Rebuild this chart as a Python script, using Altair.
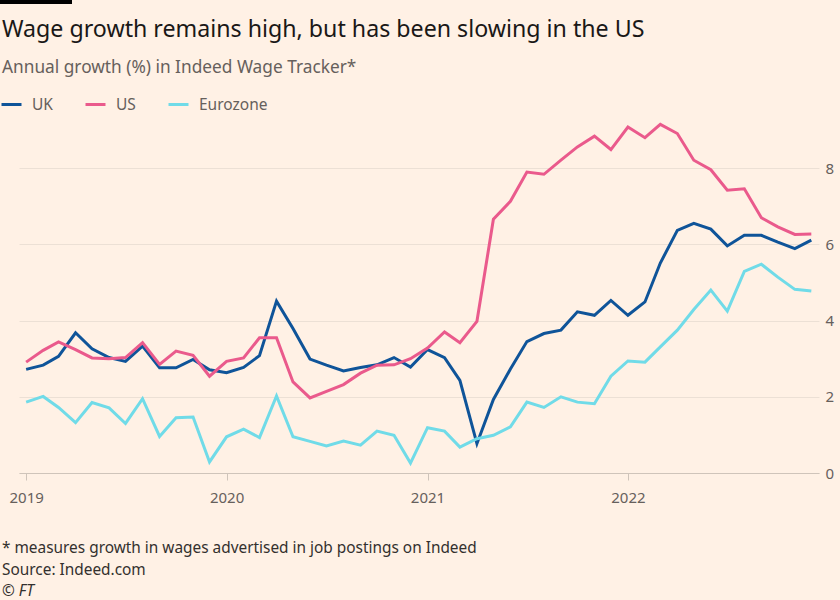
import altair as alt
import pandas as pd

months = pd.date_range("2019-01-01", "2022-12-01", freq="MS").strftime("%Y-%m-%d").tolist()

uk = [2.72, 2.83, 3.06, 3.68, 3.26, 3.03, 2.93, 3.33, 2.76, 2.76, 2.98, 2.71,
      2.63, 2.77, 3.08, 4.51, 3.79, 2.99, 2.83, 2.68, 2.77, 2.84, 3.03, 2.78,
      3.24, 3.03, 2.43, 0.77, 1.93, 2.73, 3.45, 3.66, 3.75, 4.23, 4.14, 4.53,
      4.14, 4.49, 5.51, 6.37, 6.55, 6.40, 5.96, 6.24, 6.24, 6.06, 5.89, 6.11]
us = [2.91, 3.22, 3.44, 3.24, 3.02, 3.00, 3.03, 3.42, 2.85, 3.20, 3.09, 2.54,
      2.93, 3.02, 3.55, 3.55, 2.39, 1.97, 2.14, 2.32, 2.62, 2.83, 2.84, 3.00,
      3.28, 3.70, 3.42, 3.98, 6.66, 7.13, 7.90, 7.84, 8.21, 8.56, 8.84, 8.49,
      9.08, 8.80, 9.15, 8.91, 8.21, 7.96, 7.42, 7.46, 6.70, 6.46, 6.26, 6.27]
eurozone = [1.86, 2.01, 1.72, 1.32, 1.85, 1.71, 1.30, 1.95, 0.96, 1.45, 1.47, 0.29,
            0.95, 1.15, 0.93, 2.02, 0.95, 0.83, 0.71, 0.84, 0.73, 1.10, 0.99, 0.26,
            1.19, 1.10, 0.68, 0.90, 0.99, 1.21, 1.86, 1.72, 2.00, 1.86, 1.82, 2.54,
            2.94, 2.91, 3.31, 3.75, 4.29, 4.80, 4.25, 5.29, 5.48, 5.14, 4.82, 4.78]

series_names = ["UK", "US", "Eurozone"]
series_colors = ["#0f5499", "#ea5a8c", "#70dbe8"]
year_ticks = ["2019-01-01", "2020-01-01", "2021-01-01", "2022-01-01"]
y_ticks = [0, 2, 4, 6, 8]

title_text = "Wage growth remains high, but has been slowing in the US"
subtitle_text = "Annual growth (%) in Indeed Wage Tracker*"
footnotes = ["* measures growth in wages advertised in job postings on Indeed",
             "Source: Indeed.com"]
copyright_text = "\u00a9 FT"

rows = []
for name, vals in zip(series_names, [uk, us, eurozone]):
    for m, v in zip(months, vals):
        rows.append({"date": m, "value": v, "series": name})
df = pd.DataFrame(rows)

FONT = "Noto Sans"
BG = "#fff1e5"
PAD_L, PAD_T = 19, 120
W, H = 800, 353

lines = alt.Chart(df).mark_line(strokeWidth=3).encode(
    x=alt.X("date:T",
            scale=alt.Scale(domain=["2018-12-19", "2022-12-15"]),
            axis=alt.Axis(values=year_ticks, format="%Y", title=None, grid=False,
                          domainColor="#cfc4ba", tickColor="#cfc4ba", tickSize=7,
                          labelFontSize=15, labelColor="#66605c", labelFont=FONT,
                          labelPadding=10, labelFlush=False)),
    y=alt.Y("value:Q",
            scale=alt.Scale(domain=[0, H / 38.1], nice=False, zero=True),
            axis=alt.Axis(orient="right", values=y_ticks, title=None, domain=False,
                          ticks=False, gridColor="#ece0d5", labelFontSize=15,
                          labelColor="#66605c", labelFont=FONT, labelPadding=6)),
    color=alt.Color("series:N",
                    scale=alt.Scale(domain=series_names, range=series_colors),
                    legend=alt.Legend(orient="none", direction="horizontal",
                                      legendX=-19, legendY=-27, title=None,
                                      symbolType="stroke", symbolStrokeWidth=3,
                                      symbolSize=400, labelFontSize=15.5,
                                      labelColor="#66605c", labelFont=FONT,
                                      labelOffset=9, columnPadding=26)),
)

bar = alt.Chart(pd.DataFrame({"k": [0]})).mark_rect(color="#000000").encode(
    x=alt.value(-PAD_L), x2=alt.value(-PAD_L + 72),
    y=alt.value(-PAD_T), y2=alt.value(-PAD_T + 4))

title_layer = alt.Chart(pd.DataFrame({"t": [title_text]})).mark_text(
    align="left", baseline="middle", font=FONT, fontSize=23.2, color="#1a1817"
).encode(x=alt.value(-17), y=alt.value(30 - PAD_T), text="t:N")

subtitle_layer = alt.Chart(pd.DataFrame({"t": [subtitle_text]})).mark_text(
    align="left", baseline="middle", font=FONT, fontSize=17.3, color="#66605c"
).encode(x=alt.value(-17), y=alt.value(68 - PAD_T), text="t:N")

foot_layers = []
for i, t in enumerate(footnotes):
    foot_layers.append(
        alt.Chart(pd.DataFrame({"t": [t]})).mark_text(
            align="left", baseline="middle", font=FONT, fontSize=15.4, color="#33302e"
        ).encode(x=alt.value(-17), y=alt.value(428 + 22 * i), text="t:N"))
foot_layers.append(
    alt.Chart(pd.DataFrame({"t": [copyright_text]})).mark_text(
        align="left", baseline="middle", font=FONT, fontSize=15.4, color="#33302e",
        fontStyle="italic"
    ).encode(x=alt.value(-17), y=alt.value(471), text="t:N"))

chart = alt.layer(lines, bar, title_layer, subtitle_layer, *foot_layers).properties(
    width=W, height=H,
    autosize=alt.AutoSizeParams(type="none"),
    padding={"left": PAD_L, "top": PAD_T, "right": 21, "bottom": 600 - PAD_T - H},
    background=BG,
).configure_view(stroke=None)

chart.save("out.html", embed_options={"renderer": "svg", "actions": False})
